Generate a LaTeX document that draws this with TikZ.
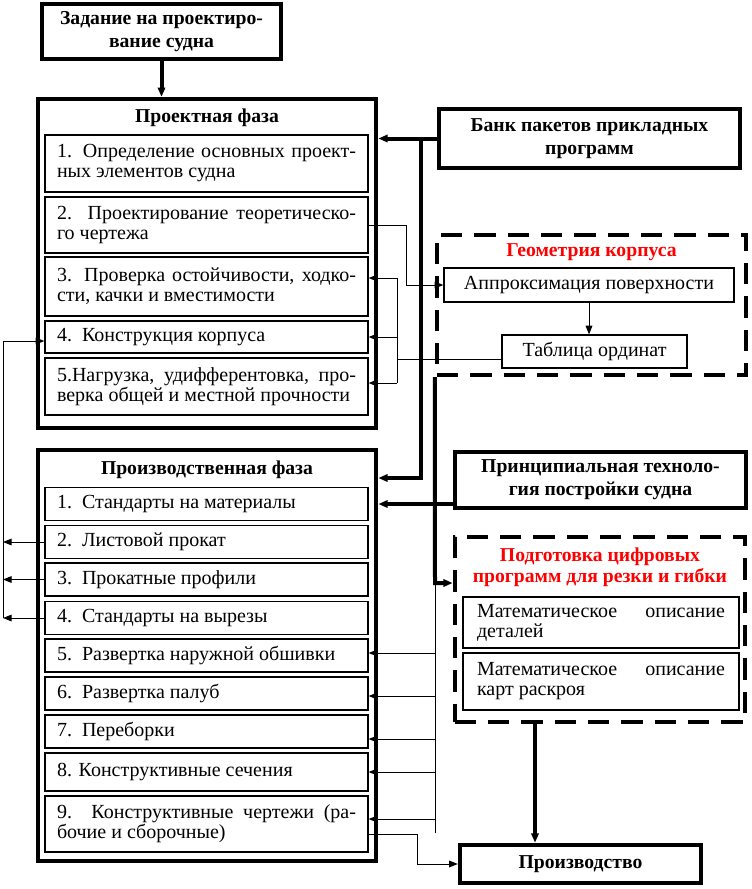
\documentclass[tikz,border=0pt]{standalone}
\usepackage{fontspec}
\setmainfont{Liberation Serif}
\usetikzlibrary{arrows.meta}

\begin{document}
\begin{tikzpicture}[x=0.75pt,y=-0.75pt]

    \tikzset{
      mainbox/.style={draw,line width=3pt,align=center,font=\bfseries\fontsize{14.75}{17.5}\selectfont},
      phasebox/.style={draw,line width=3pt,minimum width=254pt},
      dashbox/.style={draw,line width=3pt,dash pattern=on 16pt off 9pt},
      itembox/.style={draw,line width=0.9pt,text width=224.25pt,inner xsep=9pt,inner ysep=1pt,align=justify,font=\fontsize{15}{15}\selectfont},
      subbox/.style={draw,line width=0.9pt,inner sep=1pt,align=center,font=\fontsize{15}{15}\selectfont},
      phasetitle/.style={font=\bfseries\fontsize{14.75}{16}\selectfont,align=center},
      redtitle/.style={phasetitle,text=red}
    }

    \useasboundingbox (0,0) rectangle (752,889);

    % left column
    \node[mainbox,minimum width=179pt,minimum height=41pt] (zad) at (161.5,31.5) {Задание на проектиро-\\вание судна};

    \node[phasebox,minimum height=247pt] (proj) at (207,263.5) {};
    \node[phasetitle] (projt) at (207,118) {Проектная фаза};
    \node[itembox,minimum height=42.75pt] (p1) at (206.5,163.5) {1. Определение основных проект-\linebreak ных элементов судна};
    \node[itembox,minimum height=42pt] (p2) at (206.5,225) {2. Проектирование теоретическо-\linebreak го чертежа};
    \node[itembox,minimum height=44.25pt] (p3) at (206.5,286.5) {3. Проверка остойчивости, ходко-\linebreak сти, качки и вместимости};
    \node[itembox,minimum height=24pt] (p4) at (206.5,337) {4.\ \ Конструкция корпуса};
    \node[itembox,minimum height=42.75pt] (p5) at (206.5,386.5) {5.Нагрузка, удифферентовка, про-\linebreak верка общей и местной прочности};

    \node[phasebox,minimum height=308pt] (prod) at (207,655.5) {};
    \node[phasetitle] (prodt) at (207,470) {Производственная фаза};
    \node[itembox,minimum height=24.75pt] (r1) at (206.5,504) {1.\ \ Стандарты на материалы};
    \node[itembox,minimum height=24.75pt] (r2) at (206.5,542) {2.\ \ Листовой прокат};
    \node[itembox,minimum height=24.75pt] (r3) at (206.5,579.5) {3.\ \ Прокатные профили};
    \node[itembox,minimum height=24.75pt] (r4) at (206.5,618) {4.\ \ Стандарты на вырезы};
    \node[itembox,minimum height=24.75pt] (r5) at (206.5,655.5) {5.\ \ Развертка наружной обшивки};
    \node[itembox,minimum height=24.75pt] (r6) at (206.5,693.5) {6.\ \ Развертка палуб};
    \node[itembox,minimum height=24.75pt] (r7) at (206.5,731.5) {7.\ \ Переборки};
    \node[itembox,minimum height=28.5pt] (r8) at (206.5,772) {8. Конструктивные сечения};
    \node[itembox,minimum height=42pt] (r9) at (206.5,824) {9.\ \ Конструктивные чертежи (ра-\linebreak бочие и сборочные)};

    % right column
    \node[mainbox,minimum width=226pt,minimum height=44pt] (bank) at (589.5,138.5) {Банк пакетов прикладных\\программ};

    \node[dashbox,minimum width=232pt,minimum height=105pt] (geom) at (591.5,305) {};
    \node[redtitle] (geomt) at (591.5,252) {Геометрия корпуса};
    \node[subbox,minimum width=217.5pt,minimum height=25.5pt] (appr) at (589,285) {Аппроксимация поверхности};
    \node[subbox,minimum width=138.75pt,minimum height=24.75pt] (tabl) at (594.5,351.5) {Таблица ординат};

    \node[mainbox,minimum width=218pt,minimum height=42pt] (princ) at (600.5,480) {Принципиальная техноло-\\гия постройки судна};

    \node[dashbox,minimum width=218pt,minimum height=139pt] (podg) at (600,629.5) {};
    \node[redtitle] (podgt) at (600,567.5) {Подготовка цифровых\\программ для резки и гибки};
    \node[itembox,text width=186pt,inner xsep=10.5pt,minimum height=38.25pt] (mat1) at (601,622.5) {Математическое описание\linebreak деталей};
    \node[itembox,text width=186pt,inner xsep=10.5pt,minimum height=42.75pt] (mat2) at (601,681.5) {Математическое описание\linebreak карт раскроя};

    \node[mainbox,minimum width=181pt,minimum height=29pt] (proizv) at (580.5,864) {Производство};

    % bend points
    \coordinate (b1) at (421,138.5);
    \coordinate (b2) at (421,478);
    \coordinate (g1) at (435,583);
    \coordinate (pp) at (535,0);
    \coordinate (t1) at (406,225);
    \coordinate (t2) at (397,278);
    \coordinate (t3) at (397,383);
    \coordinate (t4) at (397,359);
    \coordinate (s1) at (3,341);
    \coordinate (u1) at (435,833);
    \coordinate (k1) at (417,834);

    \begin{scope}[every path/.style={-{Triangle[length=7pt,width=5.5pt]},line width=3pt}]
        \draw (zad.south) -- (zad.south |- proj.north);
        \draw (bank.west) -- (proj.east |- bank.west);
        \draw (b1) -- (b2) -- (b2 -| prod.east);
        \draw (princ.west |- r1.east) -- (prod.east |- r1.east);
        \draw (geom.south west) -- (g1) -- (g1 -| podg.west);
        \draw (podg.south -| pp) -- (proizv.north -| pp);
    \end{scope}

    \begin{scope}[every path/.style={-{Triangle[length=6.5pt,width=5pt]},line width=0.75pt}]
        \draw (p2.east) -- (t1) |- (appr.west);
        \draw (appr.south) -- (tabl.north -| appr.south);
        \draw (t2) -- (t2 -| p3.east);
        \draw (t2 |- p4.east) -- (p4.east);
        \draw (t3) -- (t3 -| p5.east);
        \draw (s1) -- (s1 -| p4.west);
        \foreach \n in {r2,r3,r4}
            \draw (\n.west) -- (\n.west -| s1);
        \foreach \n/\y in {r5/653,r6/696,r7/739,r8/772,r9/819}
            \draw (435,\y) -- (\n.east |- 0,\y);
        \draw (r9.east |- k1) -- (k1) |- (proizv.west);
    \end{scope}

    \draw[line width=0.75pt] (t4 -| tabl.west) -- (t4);
    \draw[line width=0.75pt] (t2) -- (t3);
    \draw[line width=0.75pt] (s1) -- (s1 |- r4.west);
    \draw[line width=0.75pt] (g1) -- (u1);
\end{tikzpicture}
\end{document}
